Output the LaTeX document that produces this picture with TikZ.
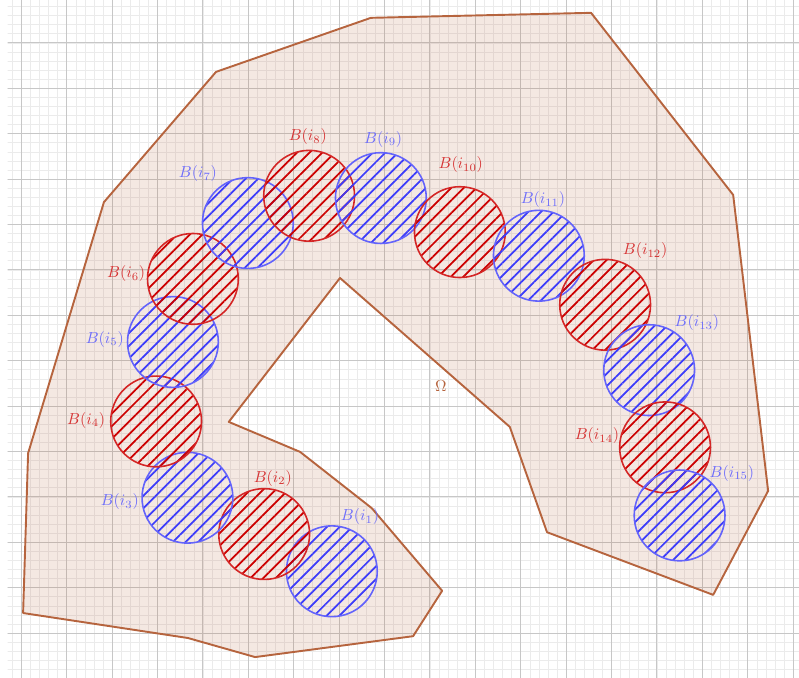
\documentclass[tikz,border=0pt]{standalone}
\usetikzlibrary{patterns.meta}

\definecolor{omegabrown}{RGB}{182,100,62}
\definecolor{ballred}{RGB}{204,0,0}
\definecolor{ballblue}{RGB}{60,60,250}

\begin{document}
\begin{tikzpicture}[
    ball/.style = {circle, minimum size=2cm, inner sep=0pt, line width=1pt}, % the covering balls
    redball/.style = {ball, draw=ballred!85,
        pattern={Lines[angle=45,distance=5.6pt,line width=1.1pt]}, pattern color=ballred},
    blueball/.style = {ball, draw=ballblue!80,
        pattern={Lines[angle=45,distance=5.6pt,line width=1.1pt]}, pattern color=ballblue},
    redlabel/.style = {text=ballred!80},
    bluelabel/.style = {text=ballblue!75},
    minorgrid/.style = {line width=0.3pt, black!8},
    majorgrid/.style = {line width=0.6pt, black!22}
    ]

    \useasboundingbox (-0.469,0.031) rectangle (17.13,14.943);

    % background grid
    \begin{scope}
    \clip (-0.3,0.031) rectangle (17.13,14.943);
    \draw[minorgrid] (-0.4,-0.2) grid[step=0.2] (17.4,15.2);
    \draw[majorgrid] (-1,-1) grid[step=1] (18,16);
    \end{scope}

    % the domain Omega
    \draw[omegabrown, line width=1.2pt, line join=round, fill=omegabrown, fill opacity=0.15]
        (0.04,1.44) -- (0.15,4.96) -- (1.82,10.49) -- (4.29,13.36) -- (7.70,14.55)
        -- (12.55,14.66) -- (15.68,10.65) -- (16.45,4.13) -- (15.24,1.84)
        -- (11.58,3.22) -- (10.76,5.54) -- (7.02,8.82) -- (4.57,5.65)
        -- (6.14,4.99) -- (7.72,3.75) -- (9.27,1.93) -- (8.63,0.93)
        -- (5.15,0.47) -- (3.67,0.89) -- cycle;
    \node[text=omegabrown] (omega) at (9.24,6.44) {$\Omega$};

    % balls
    \node[blueball] (b1) at (6.84,2.36) {};
    \node[redball] (b2) at (5.35,3.18) {};
    \node[blueball] (b3) at (3.66,3.98) {};
    \node[redball] (b4) at (2.97,5.66) {};
    \node[blueball] (b5) at (3.34,7.41) {};
    \node[redball] (b6) at (3.78,8.80) {};
    \node[blueball] (b7) at (4.99,10.03) {};
    \node[redball] (b8) at (6.34,10.63) {};
    \node[blueball] (b9) at (7.92,10.58) {};
    \node[redball] (b10) at (9.66,9.83) {};
    \node[blueball] (b11) at (11.40,9.31) {};
    \node[redball] (b12) at (12.86,8.23) {};
    \node[blueball] (b13) at (13.83,6.79) {};
    \node[redball] (b14) at (14.18,5.09) {};
    \node[blueball] (b15) at (14.50,3.59) {};

    % labels
    \node[bluelabel] (l1) at (7.46,3.56) {$B(i_1)$};
    \node[redlabel] (l2) at (5.54,4.41) {$B(i_2)$};
    \node[bluelabel] (l3) at (2.17,3.89) {$B(i_3)$};
    \node[redlabel] (l4) at (1.43,5.69) {$B(i_4)$};
    \node[bluelabel] (l5) at (1.84,7.47) {$B(i_5)$};
    \node[redlabel] (l6) at (2.31,8.91) {$B(i_6)$};
    \node[bluelabel] (l7) at (3.89,11.11) {$B(i_7)$};
    \node[redlabel] (l8) at (6.31,11.93) {$B(i_8)$};
    \node[bluelabel] (l9) at (7.97,11.88) {$B(i_9)$};
    \node[redlabel] (l10) at (9.68,11.31) {$B(i_{10})$};
    \node[bluelabel] (l11) at (11.49,10.54) {$B(i_{11})$};
    \node[redlabel] (l12) at (13.74,9.42) {$B(i_{12})$};
    \node[bluelabel] (l13) at (14.88,7.83) {$B(i_{13})$};
    \node[redlabel] (l14) at (12.68,5.34) {$B(i_{14})$};
    \node[bluelabel] (l15) at (15.65,4.52) {$B(i_{15})$};
\end{tikzpicture}
\end{document}
